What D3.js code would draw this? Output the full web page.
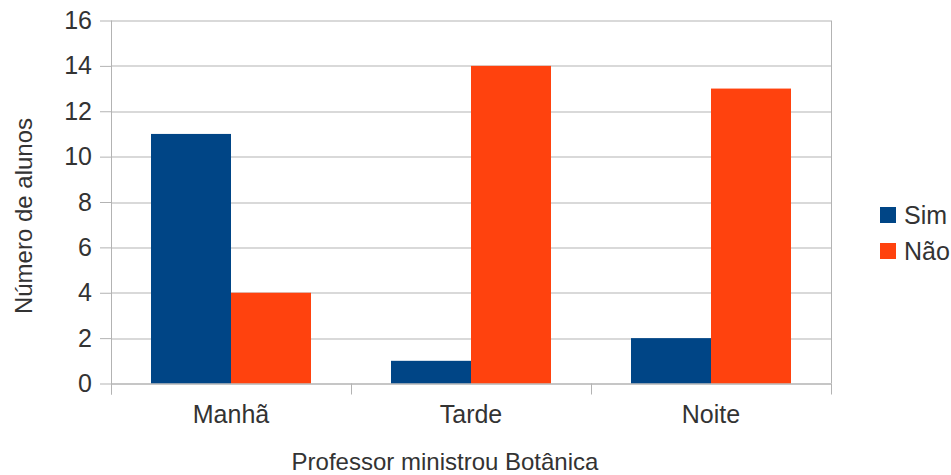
<!DOCTYPE html>
<html lang="pt">
<head>
<meta charset="UTF-8">
<title>Professor ministrou Botânica</title>
<script src="https://d3js.org/d3.v7.min.js"></script>
<style>
    body { margin: 0; background: #fff; }
    svg text { font-family: 'Liberation Sans', Arial, sans-serif; fill: #333; }
    .grid line { stroke: #b3b3b3; stroke-width: 1; }
    .axis path, .axis line { stroke: #b3b3b3; }
</style>
</head>
<body>
<svg width="951" height="475"></svg>
<script>
// Data
const categories = ["Manhã", "Tarde", "Noite"];
const seriesNames = ["Sim", "Não"];
const simValues = [11, 1, 2];
const naoValues = [4, 14, 13];
const yTicks = [0, 2, 4, 6, 8, 10, 12, 14, 16];
const colors = ["#004586", "#ff420e"];

const svg = d3.select("svg");
const margin = { top: 20.5, left: 111 };
const width = 831 - margin.left,
      height = 383.5 - margin.top;

const g = svg.append("g").attr("transform", `translate(${margin.left},${margin.top})`);

const x0 = d3.scaleBand().domain(categories).range([0, width]);
// bars take 2/3 of each category, 1/6 gap on each side
const x1 = d3.scaleBand().domain(seriesNames)
    .range([x0.bandwidth() / 6, x0.bandwidth() * 5 / 6]).padding(0);

const y = d3.scaleLinear().domain([0, 16]).range([height, 0]);
const color = d3.scaleOrdinal().domain(seriesNames).range(colors);

// gridlines
g.append("g").attr("class", "grid")
    .selectAll("line").data(yTicks).join("line")
    .attr("x1", 0).attr("x2", width)
    .attr("y1", d => Math.round(y(d)) + 0.5).attr("y2", d => Math.round(y(d)) + 0.5);

// right border
g.append("line")
    .attr("x1", width + 0.5).attr("x2", width + 0.5)
    .attr("y1", 0).attr("y2", height)
    .attr("stroke", "#b3b3b3");

// bars
const rows = categories.map((c, i) => ({ cat: c, values: [
    { key: "Sim", value: simValues[i] },
    { key: "Não", value: naoValues[i] }
]}));

g.append("g").selectAll("g").data(rows).join("g")
    .attr("transform", d => `translate(${x0(d.cat)},0)`)
    .selectAll("rect").data(d => d.values).join("rect")
    .attr("x", d => x1(d.key))
    .attr("y", d => y(d.value))
    .attr("width", x1.bandwidth())
    .attr("height", d => height - y(d.value))
    .attr("fill", d => color(d.key));

// y axis
const yAxis = g.append("g").attr("class", "axis")
    .call(d3.axisLeft(y).tickValues(yTicks).tickSize(11).tickPadding(8));
yAxis.select(".domain").attr("d", `M0.5,0V${height + 11}`);
yAxis.selectAll("text").style("font-size", "25px");

// x axis
const xAxis = g.append("g").attr("class", "axis")
    .attr("transform", `translate(0,${height})`)
    .call(d3.axisBottom(x0).tickSize(0).tickPadding(22));
xAxis.select(".domain").attr("d", `M0,0.5H${width}`);
xAxis.selectAll("text").style("font-size", "25px");
// category boundary ticks
xAxis.selectAll(".sep").data(d3.range(categories.length + 1)).join("line")
    .attr("class", "sep")
    .attr("x1", i => i * x0.bandwidth() + 0.5).attr("x2", i => i * x0.bandwidth() + 0.5)
    .attr("y1", 0).attr("y2", 11)
    .attr("stroke", "#b3b3b3");

// axis titles
svg.append("text")
    .attr("transform", "translate(32,216) rotate(-90)")
    .attr("text-anchor", "middle")
    .style("font-size", "24px")
    .text("Número de alunos");

svg.append("text")
    .attr("x", 445).attr("y", 470)
    .attr("text-anchor", "middle")
    .style("font-size", "24px")
    .text("Professor ministrou Botânica");

// legend
const legend = svg.append("g").attr("transform", "translate(880,207)");
const li = legend.selectAll("g").data(seriesNames).join("g")
    .attr("transform", (d, i) => `translate(0,${i * 36})`);
li.append("rect").attr("width", 16).attr("height", 16).attr("fill", d => color(d));
li.append("text").attr("x", 24).attr("y", 16.5).style("font-size", "25px").text(d => d);
</script>
</body>
</html>
